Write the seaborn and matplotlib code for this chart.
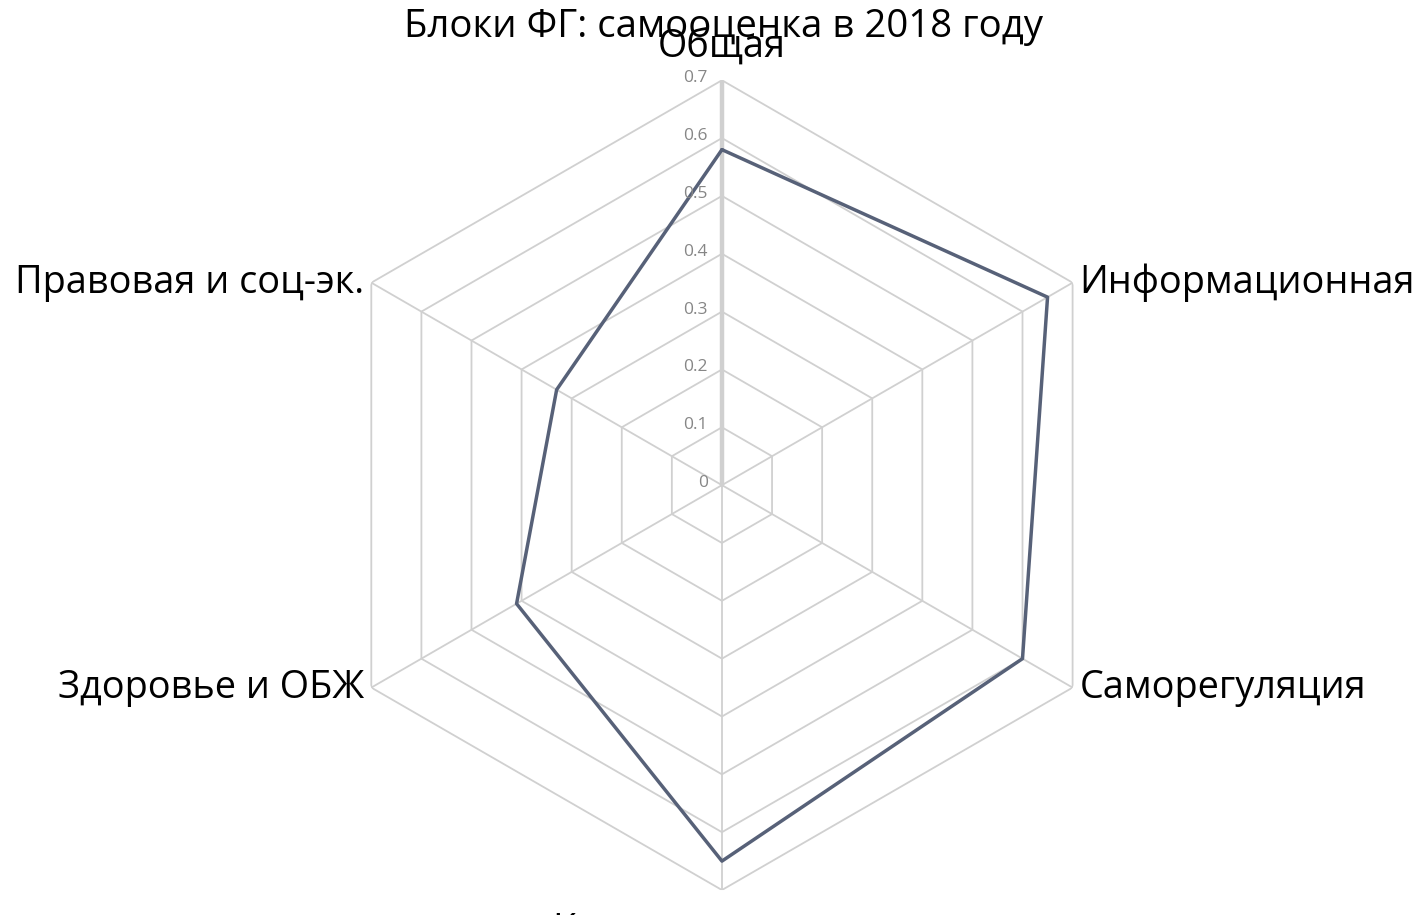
import numpy as np
import matplotlib
matplotlib.use("Agg")
import matplotlib.pyplot as plt
import seaborn as sns
import pandas as pd

categories = ["Общая", "Информационная", "Саморегуляция", "Коммуникативная",
              "Здоровье и ОБЖ", "Правовая и соц-эк."]
values = [0.58, 0.65, 0.60, 0.65, 0.41, 0.33]
ticks = [0.0, 0.1, 0.2, 0.3, 0.4, 0.5, 0.6, 0.7]
tick_labels = ["0", "0.1", "0.2", "0.3", "0.4", "0.5", "0.6", "0.7"]
title = "Блоки ФГ: самооценка в 2018 году"

sns.set_theme(style="white")
plt.rcParams['font.family'] = ['Open Sans', 'DejaVu Sans']

fig = plt.figure(figsize=(14.22, 9.15), dpi=100)
ax = fig.add_axes([0.2229, 0.0273, 0.5696, 0.885], projection='polar')
ax.set_theta_offset(np.pi / 2)
ax.set_theta_direction(-1)
ax.set_ylim(0, 0.7)

n = len(categories)
theta = np.linspace(0, 2 * np.pi, n + 1)

grid_color = '#d0d0d0'
for t in ticks[1:]:
    ax.plot(theta, [t] * (n + 1), color=grid_color, lw=1.3, zorder=1)
for th in theta[:-1]:
    ax.plot([th, th], [0, 0.7], color=grid_color, lw=1.3, zorder=1)
ax.plot([0, 0], [0, 0.7], color='#d0d0d0', lw=3.2, zorder=1)

ax.grid(False)
ax.spines['polar'].set_visible(False)
ax.set_xticks([])
ax.set_yticks([])

df = pd.DataFrame({'theta': theta, 'value': values + [values[0]]})
sns.lineplot(data=df, x='theta', y='value', sort=False, estimator=None,
             ax=ax, color='#576178', lw=2.5, zorder=3)
ax.set_xlabel('')
ax.set_ylabel('')

for t, lab in zip(ticks, tick_labels):
    ax.annotate(lab, xy=(0, t), xytext=(-14, 2), textcoords='offset pixels',
                ha='right', va='center', fontsize=12.5, color='#868686')

lab_fs = 27.3
offsets = [(0, 14, 'center', 'bottom'), (7, 0, 'left', 'center'),
           (7, 0, 'left', 'center'), (0, -22, 'center', 'top'),
           (-7, 0, 'right', 'center'), (-7, 0, 'right', 'center')]
for th, lab, (dx, dy, ha, va) in zip(theta[:-1], categories, offsets):
    ax.annotate(lab, xy=(th, 0.7), xytext=(dx, dy), textcoords='offset pixels',
                ha=ha, va=va, fontsize=lab_fs, color='black', annotation_clip=False)

fig.text(723 / 1422, 1 - 27 / 915, title, ha='center', va='center',
         fontsize=27.6, color='black')

fig.savefig('out.png', dpi=100)
